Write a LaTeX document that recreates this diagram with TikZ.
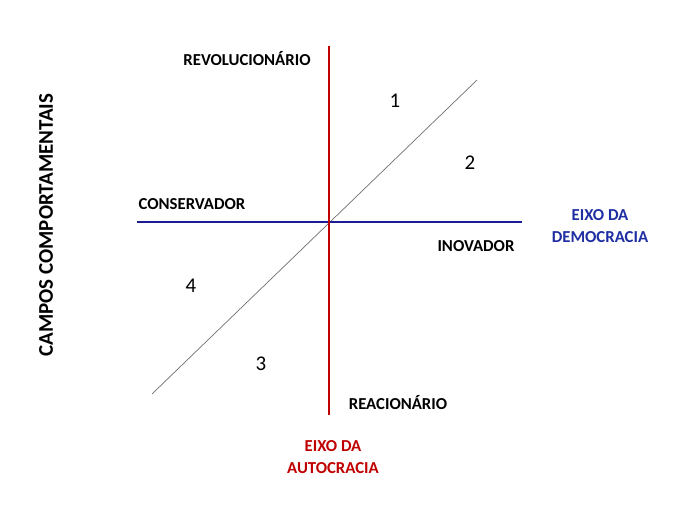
\documentclass[tikz,border=0pt]{standalone}
\usepackage{fontspec}
\setmainfont{Carlito}
\definecolor{axred}{HTML}{C00000}
\definecolor{axblue}{HTML}{1C1C96}
\definecolor{txblue}{HTML}{1F2EA3}
\definecolor{diag}{HTML}{707070}
\begin{document}
\begin{tikzpicture}[x=1bp,y=-1bp,
  lbl/.style={font=\bfseries\fontsize{16.8}{19}\selectfont, inner sep=0pt},
  num/.style={font=\fontsize{21}{23}\selectfont, inner sep=0pt},
  axlbl/.style={font=\bfseries\fontsize{16.8}{21.5}\selectfont, align=center, inner sep=0pt}]
\useasboundingbox[fill=white] (0,0) rectangle (680,510);
\coordinate (vt) at (329,46);
\coordinate (vb) at (329,415);
\coordinate (hl) at (137,222);
\coordinate (hr) at (522,222);
\coordinate (d1) at (152,394);
\coordinate (d2) at (477,80);
\draw[diag, line width=0.7bp] (d1) -- (d2);
\draw[axblue, line width=2.8bp] (hl) -- (hr);
\draw[axred, line width=2.8bp] (vt) -- (vb);
\node[lbl] (rev) at (247,59) {REVOLUCIONÁRIO};
\node[lbl] (cons) at (192,204) {CONSERVADOR};
\node[lbl] (inov) at (476,246) {INOVADOR};
\node[lbl] (reac) at (398,403) {REACIONÁRIO};
\node[num] (n1) at (395,101) {1};
\node[num] (n2) at (470,163) {2};
\node[num] (n3) at (261,364) {3};
\node[num] (n4) at (191,286) {4};
\node[axlbl, text=txblue] (dem) at (600,226) {EIXO DA\\DEMOCRACIA};
\node[axlbl, text=axred] (aut) at (333,457) {EIXO DA\\AUTOCRACIA};
\node[font=\bfseries\fontsize{21}{23}\selectfont, rotate=90, inner sep=0pt] (campos) at (46,225) {CAMPOS COMPORTAMENTAIS};
\end{tikzpicture}
\end{document}
